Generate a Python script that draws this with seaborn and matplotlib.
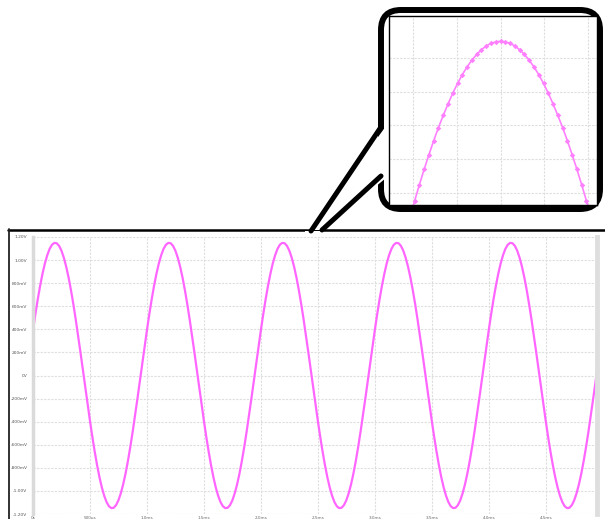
import numpy as np
import pandas as pd
import matplotlib
matplotlib.use("Agg")
import matplotlib.pyplot as plt
import seaborn as sns
from matplotlib.patches import FancyBboxPatch, Polygon, Rectangle
from matplotlib.lines import Line2D

# ---------------- data ----------------
sample_step_ms = 1.0 / 48.0          # one sample every 7.5 degrees of a 1 ms period
volts = [
    0.393, 0.531, 0.660, 0.777, 0.881, 0.970, 1.042, 1.097, 1.133, 1.149, 1.146, 1.123,
    1.081, 1.020, 0.942, 0.848, 0.739, 0.618, 0.486, 0.346, 0.200, 0.050, -0.100, -0.249,
    -0.393, -0.531, -0.660, -0.777, -0.881, -0.970, -1.042, -1.097, -1.133, -1.149, -1.146, -1.123,
    -1.081, -1.020, -0.942, -0.848, -0.739, -0.618, -0.486, -0.346, -0.200, -0.050, 0.100, 0.249,
    0.393, 0.531, 0.660, 0.777, 0.881, 0.970, 1.042, 1.097, 1.133, 1.149, 1.146, 1.123,
    1.081, 1.020, 0.942, 0.848, 0.739, 0.618, 0.486, 0.346, 0.200, 0.050, -0.100, -0.249,
    -0.393, -0.531, -0.660, -0.777, -0.881, -0.970, -1.042, -1.097, -1.133, -1.149, -1.146, -1.123,
    -1.081, -1.020, -0.942, -0.848, -0.739, -0.618, -0.486, -0.346, -0.200, -0.050, 0.100, 0.249,
    0.393, 0.531, 0.660, 0.777, 0.881, 0.970, 1.042, 1.097, 1.133, 1.149, 1.146, 1.123,
    1.081, 1.020, 0.942, 0.848, 0.739, 0.618, 0.486, 0.346, 0.200, 0.050, -0.100, -0.249,
    -0.393, -0.531, -0.660, -0.777, -0.881, -0.970, -1.042, -1.097, -1.133, -1.149, -1.146, -1.123,
    -1.081, -1.020, -0.942, -0.848, -0.739, -0.618, -0.486, -0.346, -0.200, -0.050, 0.100, 0.249,
    0.393, 0.531, 0.660, 0.777, 0.881, 0.970, 1.042, 1.097, 1.133, 1.149, 1.146, 1.123,
    1.081, 1.020, 0.942, 0.848, 0.739, 0.618, 0.486, 0.346, 0.200, 0.050, -0.100, -0.249,
    -0.393, -0.531, -0.660, -0.777, -0.881, -0.970, -1.042, -1.097, -1.133, -1.149, -1.146, -1.123,
    -1.081, -1.020, -0.942, -0.848, -0.739, -0.618, -0.486, -0.346, -0.200, -0.050, 0.100, 0.249,
    0.393, 0.531, 0.660, 0.777, 0.881, 0.970, 1.042, 1.097, 1.133, 1.149, 1.146, 1.123,
    1.081, 1.020, 0.942, 0.848, 0.739, 0.618, 0.486, 0.346, 0.200, 0.050, -0.100, -0.249,
    -0.393, -0.531, -0.660, -0.777, -0.881, -0.970, -1.042, -1.097, -1.133, -1.149, -1.146, -1.123,
    -1.081, -1.020, -0.942, -0.848, -0.739, -0.618, -0.486, -0.346, -0.200, -0.050, 0.100, 0.249,
    0.393,
]
y_ticks = [1.2, 1.0, 0.8, 0.6, 0.4, 0.2, 0.0, -0.2, -0.4, -0.6, -0.8, -1.0, -1.2]
y_tick_labels = ["1.20V", "1.00V", "800mV", "600mV", "400mV", "200mV", "0V",
                 "-200mV", "-400mV", "-600mV", "-800mV", "-1.00V", "-1.20V"]
x_ticks = [0.0, 0.5, 1.0, 1.5, 2.0, 2.5, 3.0, 3.5, 4.0, 4.5]
x_tick_labels = ["0s", "500µs", "1.0ms", "1.5ms", "2.0ms", "2.5ms", "3.0ms", "3.5ms", "4.0ms", "4.5ms"]

# zoomed view around one crest: samples every 3 degrees
inset_peak_ms = 2.194
inset_step_ms = 1.0 / 120.0
inset_volts = [
    0.575, 0.626, 0.676, 0.724, 0.770, 0.813, 0.855, 0.894, 0.930, 0.964, 0.996,
    1.025, 1.051, 1.074, 1.094, 1.111, 1.125, 1.136, 1.144, 1.148, 1.150,
    1.148, 1.144, 1.136, 1.125, 1.111, 1.094, 1.074, 1.051, 1.025, 0.996,
    0.964, 0.930, 0.894, 0.855, 0.813, 0.770, 0.724, 0.676, 0.626, 0.575,
]
inset_y_ticks = [0.7, 0.8, 0.9, 1.0, 1.1]

# ---------------- figure ----------------
W, H, DPI = 605, 519, 100
sns.set_style("white")
fig = plt.figure(figsize=(W / DPI, H / DPI), dpi=DPI)
fig.patch.set_facecolor("white")

def fx(x):
    return x / W

def fy(y):
    return 1 - y / H

def inch(x, y):
    return (x / DPI, (H - y) / DPI)

line_color = "#ff66ff"
grid_kw = dict(color="#dedede", linestyle=(0, (2, 1.2)), linewidth=0.8)
tick_font = ["Liberation Sans Narrow", "DejaVu Sans"]

# main axes
ax = fig.add_axes([fx(33), fy(514), fx(597) - fx(33), fy(237) - fy(514)])
df = pd.DataFrame({"t": np.arange(len(volts)) * sample_step_ms, "v": volts})
sns.lineplot(data=df, x="t", y="v", ax=ax, color=line_color, linewidth=1.6, legend=False)
ax.set_xlim(0, 4.95)
ax.set_ylim(-1.2, 1.2)
ax.set_yticks(y_ticks)
ax.set_yticklabels(y_tick_labels, fontfamily=tick_font)
ax.set_xticks(x_ticks)
ax.set_xticklabels(x_tick_labels, fontfamily=tick_font)
ax.set_xlabel("")
ax.set_ylabel("")
ax.grid(True, **grid_kw)
ax.tick_params(axis="y", labelsize=3.2, colors="#8a8a8a", labelcolor="#555555",
               length=3, width=0.6, pad=1)
ax.tick_params(axis="x", labelsize=3.0, colors="#8a8a8a", labelcolor="#666666",
               length=1.5, width=0.6, pad=0.2)
for s in ["top", "bottom"]:
    ax.spines[s].set_visible(False)
ax.spines["left"].set_color("#dadada")
ax.spines["left"].set_linewidth(2.5)
ax.spines["right"].set_color("#dedede")
ax.spines["right"].set_linewidth(3.5)

# window frame lines
fig.add_artist(Line2D([8 / DPI, 605 / DPI], [inch(0, 230)[1]] * 2, color="black",
                      linewidth=1.8, transform=fig.dpi_scale_trans, zorder=3))
fig.add_artist(Line2D([8.5 / DPI] * 2, [inch(0, 229)[1], 0], color="#222222",
                      linewidth=1.3, transform=fig.dpi_scale_trans, zorder=3))

# callout box
box = FancyBboxPatch(inch(381, 209), 219 / DPI, 199 / DPI,
                     boxstyle="round,pad=0,rounding_size=0.2",
                     linewidth=4.3, edgecolor="black", facecolor="white",
                     transform=fig.dpi_scale_trans, zorder=-1)
fig.add_artist(box)

# inset axes
axi = fig.add_axes([fx(389), fy(205), fx(597) - fx(389), fy(16) - fy(205)])
dfi = pd.DataFrame({"t": inset_peak_ms + (np.arange(len(inset_volts)) - 20) * inset_step_ms,
                    "v": inset_volts})
sns.lineplot(data=dfi, x="t", y="v", ax=axi, color="#ff80ff", linewidth=1.2,
             marker="D", markersize=2.8, markeredgewidth=0, legend=False)
deg_per_px = 54.3 / 86
ms_per_px = deg_per_px / 360
axi.set_xlim(inset_peak_ms - 111 * ms_per_px, inset_peak_ms + 96 * ms_per_px)
axi.set_ylim(0.664, 1.225)
grid_ms = 43.5 * ms_per_px
axi.set_xticks([inset_peak_ms + k * grid_ms for k in (-2, -1, 0, 1, 2)])
axi.set_yticks(inset_y_ticks)
axi.grid(True, **grid_kw)
axi.tick_params(length=0, labelbottom=False, labelleft=False)
axi.set_xlabel("")
axi.set_ylabel("")
for s in axi.spines.values():
    s.set_color("black")
    s.set_linewidth(1.0)

# pointer from box to main chart
cover = Polygon([inch(386, 126), inch(311, 230), inch(323, 230), inch(386, 178)],
                closed=True, facecolor="white", edgecolor="none",
                transform=fig.dpi_scale_trans, zorder=4)
fig.add_artist(cover)
fig.add_artist(Rectangle(inch(305, 236), 19 / DPI, 5 / DPI, facecolor="white",
                         edgecolor="none", transform=fig.dpi_scale_trans, zorder=4))
for (x0, y0), (x1, y1) in [((381, 127), (311, 231)), ((381, 176), (322, 230))]:
    a, b = inch(x0, y0), inch(x1, y1)
    fig.add_artist(Line2D([a[0], b[0]], [a[1], b[1]], color="black", linewidth=3.6,
                          solid_capstyle="round", transform=fig.dpi_scale_trans, zorder=5))

fig.savefig("out.png", dpi=DPI)
